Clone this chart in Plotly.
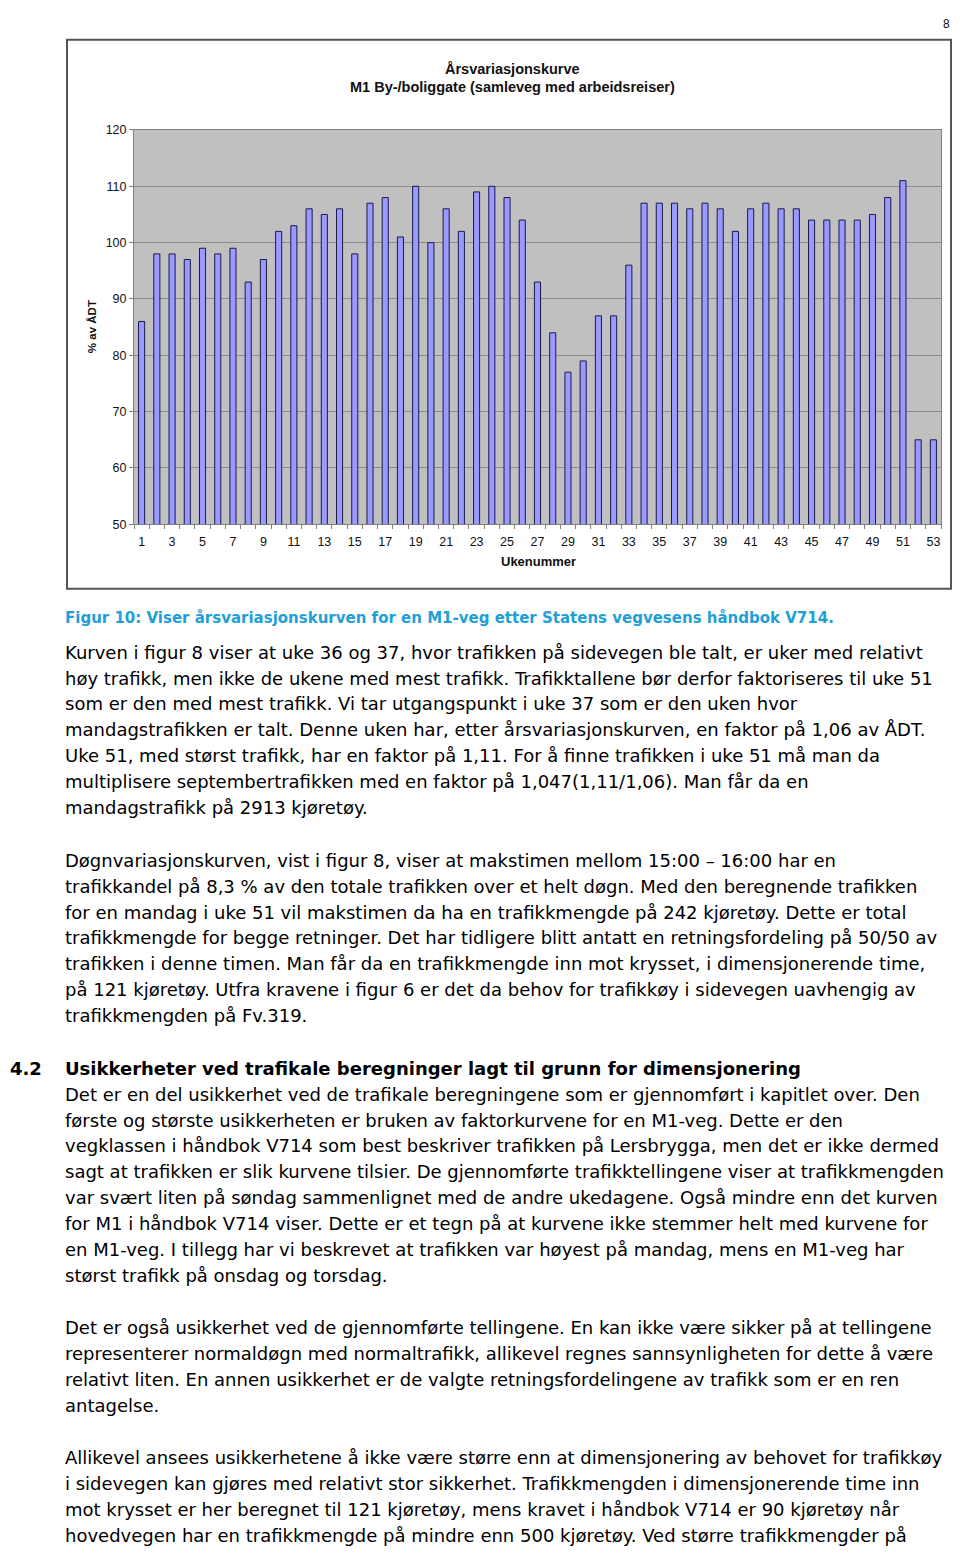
import plotly.graph_objects as go

# ---- data ----
weeks = list(range(1, 54))
pct_adt = [86, 98, 98, 97, 99, 98, 99, 93, 97, 102,
           103, 106, 105, 106, 98, 107, 108, 101, 110, 100,
           106, 102, 109, 110, 108, 104, 93, 84, 77, 79,
           87, 87, 96, 107, 107, 107, 106, 107, 106, 102,
           106, 107, 106, 106, 104, 104, 104, 104, 105, 108,
           111, 65, 65]
tick_labels = [str(w) for w in weeks if w % 2 == 1]
tick_vals = [w for w in weeks if w % 2 == 1]

chart_title_1 = "Årsvariasjonskurve"
chart_title_2 = "M1 By-/boliggate (samleveg med arbeidsreiser)"
y_title = "% av ÅDT"
x_title = "Ukenummer"

caption = "Figur 10: Viser årsvariasjonskurven for en M1-veg etter Statens vegvesens håndbok V714."

para1 = [
    "Kurven i figur 8 viser at uke 36 og 37, hvor trafikken på sidevegen ble talt, er uker med relativt",
    "høy trafikk, men ikke de ukene med mest trafikk. Trafikktallene bør derfor faktoriseres til uke 51",
    "som er den med mest trafikk. Vi tar utgangspunkt i uke 37 som er den uken hvor",
    "mandagstrafikken er talt. Denne uken har, etter årsvariasjonskurven, en faktor på 1,06 av ÅDT.",
    "Uke 51, med størst trafikk, har en faktor på 1,11. For å finne trafikken i uke 51 må man da",
    "multiplisere septembertrafikken med en faktor på 1,047(1,11/1,06). Man får da en",
    "mandagstrafikk på 2913 kjøretøy.",
]
para2 = [
    "Døgnvariasjonskurven, vist i figur 8, viser at makstimen mellom 15:00 – 16:00 har en",
    "trafikkandel på 8,3 % av den totale trafikken over et helt døgn. Med den beregnende trafikken",
    "for en mandag i uke 51 vil makstimen da ha en trafikkmengde på 242 kjøretøy. Dette er total",
    "trafikkmengde for begge retninger. Det har tidligere blitt antatt en retningsfordeling på 50/50 av",
    "trafikken i denne timen. Man får da en trafikkmengde inn mot krysset, i dimensjonerende time,",
    "på 121 kjøretøy. Utfra kravene i figur 6 er det da behov for trafikkøy i sidevegen uavhengig av",
    "trafikkmengden på Fv.319.",
]
heading_num = "4.2"
heading = "Usikkerheter ved trafikale beregninger lagt til grunn for dimensjonering"
para3 = [
    "Det er en del usikkerhet ved de trafikale beregningene som er gjennomført i kapitlet over. Den",
    "første og største usikkerheten er bruken av faktorkurvene for en M1-veg. Dette er den",
    "vegklassen i håndbok V714 som best beskriver trafikken på Lersbrygga, men det er ikke dermed",
    "sagt at trafikken er slik kurvene tilsier. De gjennomførte trafikktellingene viser at trafikkmengden",
    "var svært liten på søndag sammenlignet med de andre ukedagene. Også mindre enn det kurven",
    "for M1 i håndbok V714 viser. Dette er et tegn på at kurvene ikke stemmer helt med kurvene for",
    "en M1-veg. I tillegg har vi beskrevet at trafikken var høyest på mandag, mens en M1-veg har",
    "størst trafikk på onsdag og torsdag.",
]
para4 = [
    "Det er også usikkerhet ved de gjennomførte tellingene. En kan ikke være sikker på at tellingene",
    "representerer normaldøgn med normaltrafikk, allikevel regnes sannsynligheten for dette å være",
    "relativt liten. En annen usikkerhet er de valgte retningsfordelingene av trafikk som er en ren",
    "antagelse.",
]
para5 = [
    "Allikevel ansees usikkerhetene å ikke være større enn at dimensjonering av behovet for trafikkøy",
    "i sidevegen kan gjøres med relativt stor sikkerhet. Trafikkmengden i dimensjonerende time inn",
    "mot krysset er her beregnet til 121 kjøretøy, mens kravet i håndbok V714 er 90 kjøretøy når",
    "hovedvegen har en trafikkmengde på mindre enn 500 kjøretøy. Ved større trafikkmengder på",
]
page_number = "8"

# ---- layout helpers (page has an 8px body margin) ----
OFF = 8
W, H = 960 - 2 * OFF, 1556 - 2 * OFF
def px(x):
    return min(max(x - OFF, 0), W - 1) / W
def py(y):
    return 1 - (y - OFF) / H

fig = go.Figure()
fig.add_trace(go.Bar(
    x=weeks, y=pct_adt,
    marker=dict(color="#9999FF", line=dict(color="#1A1A4A", width=1)),
    width=0.4, hoverinfo="x+y",
))

annotations = []
chart_font = "Liberation Sans, Arial, sans-serif"
def ann(text, x, y, size, family, color="#111", xanchor="center", **kw):
    annotations.append(dict(text=text, x=px(x), y=py(y), xref="paper", yref="paper",
                            showarrow=False, xanchor=xanchor, yanchor="middle",
                            font=dict(family=family, size=size, color=color), **kw))

ann("<b>%s</b>" % chart_title_1, 512, 62, 14.5, chart_font)
ann("<b>%s</b>" % chart_title_2, 512, 81, 14.5, chart_font)
ann("<b>%s</b>" % y_title, 92, 323, 11.5, chart_font, textangle=-90)
ann("<b>%s</b>" % x_title, 538, 560, 13, chart_font)
annotations.append(dict(text=page_number, x=1.0, y=1.0, xref="paper", yref="paper",
                        showarrow=False, xanchor="right", yanchor="top",
                        font=dict(family=chart_font, size=12, color="#111")))

body_font = "DejaVu Sans, Verdana, sans-serif"
ann("<b>%s</b>" % caption, 63, 617, 15, body_font, color="#1E9FD8", xanchor="left")

step = 26.15
def add_para(lines, y0):
    for i, line in enumerate(lines):
        ann(line, 63, y0 + i * step, 18, body_font, color="#000", xanchor="left")

add_para(para1, 651)
add_para(para2, 861)
ann("<b>%s</b>" % heading_num, 0, 1071, 18, body_font, color="#000", xanchor="left")
ann("<b>%s</b>" % heading, 63, 1071, 18, body_font, color="#000", xanchor="left")
add_para(para3, 1097)
add_para(para4, 1333)
add_para(para5, 1464)

shapes = [dict(type="rect", xref="paper", yref="paper",
               x0=px(67), x1=px(957), y0=py(587), y1=py(33),
               line=dict(color="#555555", width=2), fillcolor="rgba(0,0,0,0)")]

fig.update_layout(
    width=W, height=H,
    margin=dict(l=0, r=0, t=0, b=0),
    paper_bgcolor="white",
    plot_bgcolor="#C0C0C0",
    showlegend=False,
    annotations=annotations,
    shapes=shapes,
    xaxis=dict(domain=[px(134), px(941)], range=[0.5, 53.5],
               tickvals=tick_vals, ticktext=tick_labels, ticks="", ticklen=0,
               ticklabelstandoff=6,
               showgrid=False, zeroline=False,
               showline=True, linecolor="#808080", linewidth=1, mirror=True,
               tickfont=dict(family=chart_font, size=12.5, color="#111"),
               minor=dict(tick0=0.5, dtick=1, ticks="outside", ticklen=4, tickcolor="#808080", showgrid=False)),
    yaxis=dict(domain=[py(522), py(124)], range=[50, 120], dtick=10,
               ticks="outside", ticklen=4, tickcolor="#808080",
               showgrid=True, gridcolor="#8C8C8C", gridwidth=1, zeroline=False,
               showline=True, linecolor="#808080", linewidth=1, mirror=True,
               tickfont=dict(family=chart_font, size=12.5, color="#111")),
)

fig.write_html("out.html")
